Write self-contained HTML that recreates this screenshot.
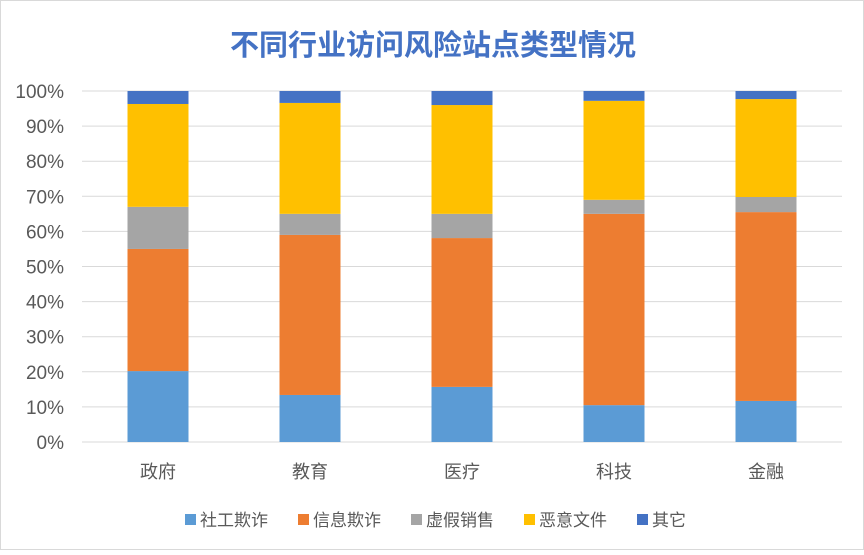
<!DOCTYPE html>
<html><head><meta charset="utf-8"><style>
body{margin:0;background:#fff;}
svg text{font-family:"Liberation Sans","Noto Sans CJK SC",sans-serif;}
</style></head><body>
<svg width="864" height="550" viewBox="0 0 864 550">
<rect x="0.5" y="0.5" width="863" height="549" fill="#fff" stroke="#d9d9d9"/>
<text x="433" y="55" text-anchor="middle" font-size="29" font-weight="bold" fill="#4472c4">不同行业访问风险站点类型情况</text>
<g id="grid"></g><g id="bars"></g><g id="legend"></g>
</svg>
<script>
const categories=["政府","教育","医疗","科技","金融"];
const seriesNames=["社工欺诈","信息欺诈","虚假销售","恶意文件","其它"];
const colors=["#5b9bd5","#ed7d31","#a5a5a5","#ffc000","#4472c4"];
const s1=[20.2,13.4,15.7,10.5,11.7];
const s2=[34.8,45.6,42.4,54.5,53.8];
const s3=[12.0,6.0,6.9,4.0,4.3];
const s4=[29.3,31.6,31.0,28.2,27.9];
const s5=[3.7,3.4,4.0,2.8,2.3];
const series=[s1,s2,s3,s4,s5];
const yTicks=[0,10,20,30,40,50,60,70,80,90,100];
const NS="http://www.w3.org/2000/svg";
const y0=442,y1=91,xL=82,xR=842;
const y=v=>y0-(y0-y1)*v/100;
const band=(xR-xL)/categories.length;
const xc=i=>xL+band*(i+0.5);
const bw=61;
function mk(t,a){const e=document.createElementNS(NS,t);for(const k in a)e.setAttribute(k,a[k]);return e;}
const grid=document.getElementById('grid');
yTicks.forEach(t=>{
 const l=mk('line',{x1:xL,x2:xR,y1:y(t),y2:y(t),stroke:'#d9d9d9','stroke-width':1});
 
 
 grid.appendChild(l);
 const tx=mk('text',{x:64,y:y(t)+7,'text-anchor':'end','font-size':19,fill:'#595959'});
 tx.textContent=t+'%';
 
 
 grid.appendChild(tx);
});
const bars=document.getElementById('bars');
categories.forEach((c,i)=>{
 let cum=0;
 series.forEach((s,j)=>{
  const v=s[i];
  const r=mk('rect',{x:xc(i)-bw/2,y:y(cum+v),width:bw,height:y(cum)-y(cum+v),fill:colors[j]});
  
  
  bars.appendChild(r);
  cum+=v;
 });
 const t=mk('text',{x:xc(i),y:478,'text-anchor':'middle','font-size':18,fill:'#595959'});
 t.textContent=c;
 
 
 bars.appendChild(t);
});
const lg=document.getElementById('legend');
const lx=[185,298,411,524,637];
seriesNames.forEach((n,j)=>{
 const g=mk('g',{});
 
 
 g.appendChild(mk('rect',{x:lx[j],y:514,width:11,height:11,fill:colors[j]}));
 const t=mk('text',{x:lx[j]+15,y:526,'font-size':17,fill:'#595959'});
 t.textContent=n;
 g.appendChild(t);
 lg.appendChild(g);
});
</script>
</body></html>
